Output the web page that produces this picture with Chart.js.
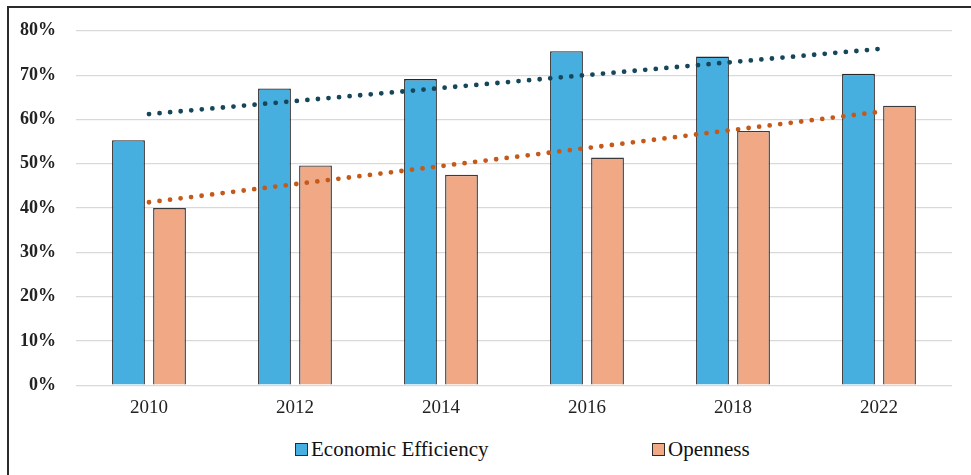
<!DOCTYPE html>
<html>
<head>
<meta charset="utf-8">
<script src="https://cdn.jsdelivr.net/npm/chart.js@4"></script>
<style>
  body { margin: 0; background: #fff; }
  #wrap { position: relative; width: 971px; height: 475px; overflow: hidden; }
  #frame { position: absolute; left: 7px; top: 6px; width: 1000px; height: 500px;
           border-left: 2px solid #2b2b2b; border-top: 2px solid #2b2b2b; }
  #chart { position: absolute; left: 0; top: 0; }
  .legend { position: absolute; top: 437px; font-family: "Liberation Serif", "Times New Roman", serif;
            font-size: 21px; color: #111; display: flex; align-items: center; }
  .legend span.box { display: inline-block; width: 11px; height: 11px; border: 1.3px solid #2b2b2b;
                     margin-right: 3px; }
</style>
</head>
<body>
<div id="wrap">
  <div id="frame"></div>
  <canvas id="chart" width="971" height="422"></canvas>
  <div class="legend" style="left:295px"><span class="box" style="background:#46afe0"></span>Economic Efficiency</div>
  <div class="legend" style="left:652px"><span class="box" style="background:#f1a985"></span>Openness</div>
</div>
<script>
const years = ['2010', '2012', '2014', '2016', '2018', '2022'];
const economicEfficiency = [55.3, 67.0, 69.1, 75.4, 74.2, 70.3];
const openness = [40.0, 49.6, 47.5, 51.4, 57.4, 63.1];
// trendline ends
const efficiencyTrend = [61.2, null, null, null, null, 75.9];
const opennessTrend = [41.3, null, null, null, null, 61.7];
const yTicks = [0, 10, 20, 30, 40, 50, 60, 70, 80];

const ctx = document.getElementById('chart').getContext('2d');
new Chart(ctx, {
    data: {
        labels: years,
        datasets: [
            {
                type: 'bar',
                label: 'Economic Efficiency',
                data: economicEfficiency,
                backgroundColor: '#46afe0',
                borderColor: '#262626',
                borderWidth: 1.4,
                categoryPercentage: 0.562,
                barPercentage: 0.8,
                order: 2
            },
            {
                type: 'bar',
                label: 'Openness',
                data: openness,
                backgroundColor: '#f1a985',
                borderColor: '#3a3a3a',
                borderWidth: 1.4,
                categoryPercentage: 0.562,
                barPercentage: 0.8,
                order: 2
            },
            {
                type: 'line',
                label: 'Trend EE',
                data: efficiencyTrend,
                spanGaps: true,
                borderColor: '#15465a',
                borderWidth: 4.8,
                borderDash: [0, 10.6],
                borderCapStyle: 'round',
                pointRadius: 0,
                fill: false,
                order: 1
            },
            {
                type: 'line',
                label: 'Trend Openness',
                data: opennessTrend,
                spanGaps: true,
                borderColor: '#c5591a',
                borderWidth: 4.8,
                borderDash: [0, 10.6],
                borderCapStyle: 'round',
                pointRadius: 0,
                fill: false,
                order: 1
            }
        ]
    },
    options: {
        responsive: false,
        animation: false,
        layout: { padding: { top: 20, right: 19, bottom: 0, left: 0 } },
        plugins: {
            legend: { display: false },
            tooltip: { enabled: false }
        },
        scales: {
            x: {
                grid: { display: false },
                border: { display: false },
                ticks: {
                    color: '#222',
                    padding: 3,
                    font: { family: 'Liberation Serif', size: 19 }
                }
            },
            y: {
                min: 0,
                max: 80,
                afterBuildTicks: (axis) => { axis.ticks = yTicks.map(v => ({ value: v })); },
                grid: { color: '#d9d9d9', lineWidth: 1.2, drawTicks: false },
                border: { display: false },
                ticks: {
                    color: '#222',
                    padding: 20,
                    font: { family: 'Liberation Serif', size: 18, weight: 'bold' },
                    callback: (v) => v + '%'
                }
            }
        }
    }
});
</script>
</body>
</html>
